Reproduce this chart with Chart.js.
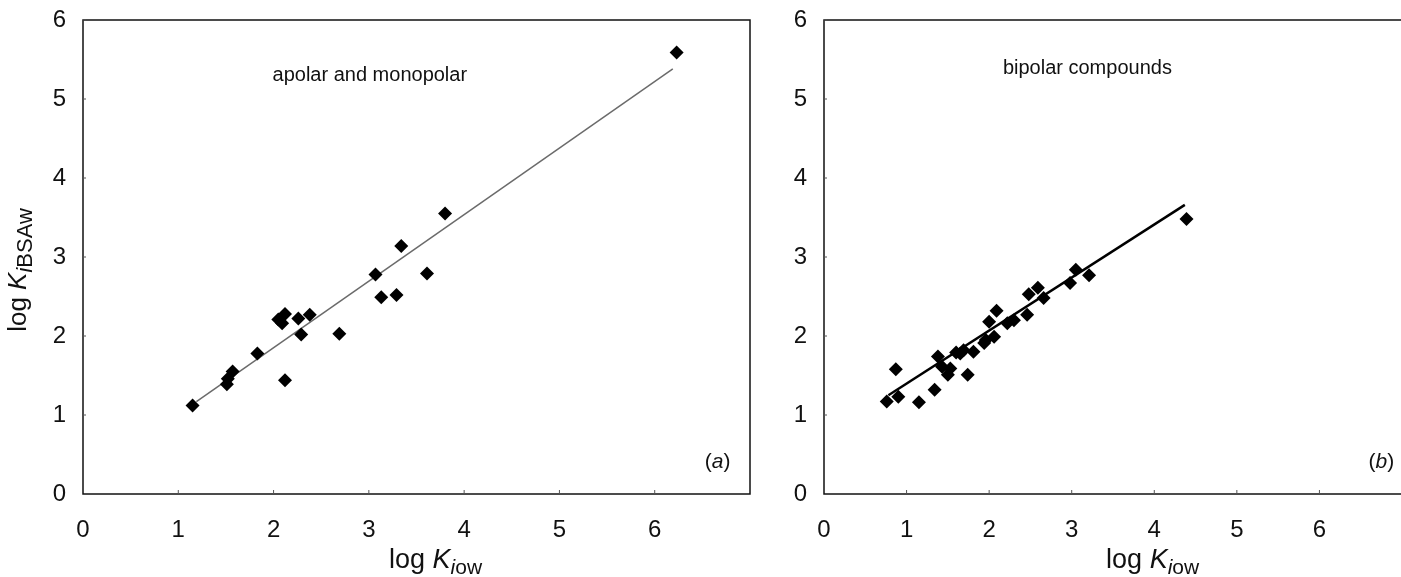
<!DOCTYPE html>
<html>
<head>
<meta charset="utf-8">
<script src="https://cdn.jsdelivr.net/npm/chart.js@4.4.0/dist/chart.umd.min.js"></script>
<style>
  html, body { margin: 0; padding: 0; background: #fff; }
  body { width: 1401px; height: 577px; position: relative; overflow: hidden; }
  canvas { position: absolute; top: 0; }
  #chartA { left: 0; }
  #chartB { left: 740px; }
</style>
</head>
<body>
<canvas id="chartA" width="770" height="577"></canvas>
<canvas id="chartB" width="669" height="577"></canvas>
<script>
// (a) apolar and monopolar compounds
const apolarX = [1.15, 1.51, 1.52, 1.57, 1.83, 2.12, 2.05, 2.09, 2.12, 2.26, 2.38, 2.29, 2.69, 3.07, 3.13, 3.29, 3.34, 3.61, 3.80, 6.23];
const apolarY = [1.12, 1.39, 1.46, 1.55, 1.78, 1.44, 2.21, 2.16, 2.28, 2.22, 2.27, 2.02, 2.03, 2.78, 2.49, 2.52, 3.14, 2.79, 3.55, 5.59];
const apolarFitX = [1.19, 6.19];
const apolarFitY = [1.17, 5.38];

// (b) bipolar compounds
const bipolarX = [0.76, 0.90, 0.87, 1.15, 1.34, 1.38, 1.43, 1.50, 1.53, 1.60, 1.65, 1.74, 1.81, 1.69, 1.94, 1.96, 2.06, 2.00, 2.09, 2.22, 2.30, 2.46, 2.48, 2.59, 2.66, 2.98, 3.05, 3.21, 4.39];
const bipolarY = [1.17, 1.23, 1.58, 1.16, 1.32, 1.74, 1.61, 1.51, 1.59, 1.79, 1.78, 1.51, 1.80, 1.82, 1.91, 1.95, 1.99, 2.18, 2.32, 2.16, 2.20, 2.27, 2.53, 2.61, 2.48, 2.67, 2.84, 2.77, 3.48];
const bipolarFitX = [0.78, 4.37];
const bipolarFitY = [1.25, 3.66];

const xTickLabels = ['0', '1', '2', '3', '4', '5', '6'];

const FONT = '"Liberation Sans", Arial, Helvetica, sans-serif';

function pairs(xs, ys) {
  return xs.map((x, i) => ({ x: x, y: ys[i] }));
}

// draws "log K_i..." with italic K and subscripts
function drawLabel(ctx, parts, cx, cy, rotate, size, subSize) {
  ctx.save();
  ctx.translate(cx, cy);
  if (rotate) ctx.rotate(-Math.PI / 2);
  ctx.textBaseline = 'alphabetic';
  ctx.textAlign = 'left';
  const fontOf = p => (p.italic ? 'italic ' : '') + (p.sub ? subSize : size) + 'px ' + FONT;
  let total = 0;
  parts.forEach(p => {
    ctx.font = fontOf(p);
    p.w = ctx.measureText(p.t).width;
    total += p.w;
  });
  let x = -total / 2;
  const base = size * 0.36;
  parts.forEach(p => {
    ctx.font = fontOf(p);
    ctx.fillText(p.t, x, p.sub ? base + size * 0.22 : base);
    x += p.w;
  });
  ctx.restore();
}

const framePlugin = {
  id: 'frame',
  afterDraw(chart, args, opts) {
    const { ctx, chartArea: a, scales } = chart;
    ctx.save();
    ctx.strokeStyle = '#111';
    ctx.lineWidth = 1.5;
    ctx.strokeRect(a.left, a.top, a.right - a.left, a.bottom - a.top);
    // small inward tick marks
    ctx.lineWidth = 1;
    ctx.strokeStyle = '#555';
    for (let v = 1; v <= 6; v++) {
      const px = scales.x.getPixelForValue(v);
      ctx.beginPath(); ctx.moveTo(px, a.bottom); ctx.lineTo(px, a.bottom - 4); ctx.stroke();
      const py = scales.y.getPixelForValue(v);
      ctx.beginPath(); ctx.moveTo(a.left, py); ctx.lineTo(a.left + 3, py); ctx.stroke();
    }
    ctx.fillStyle = '#111';
    // panel caption
    ctx.font = '20px ' + FONT;
    ctx.textAlign = 'center';
    ctx.textBaseline = 'middle';
    ctx.fillText(opts.caption, scales.x.getPixelForValue(opts.captionAt[0]), scales.y.getPixelForValue(opts.captionAt[1]));
    // panel letter (a)/(b)
    const lx = scales.x.getPixelForValue(opts.letterAt[0]);
    const ly = scales.y.getPixelForValue(opts.letterAt[1]);
    ctx.textAlign = 'left';
    ctx.font = '21px ' + FONT;
    const w1 = ctx.measureText('(').width;
    ctx.font = 'italic 21px ' + FONT;
    const w2 = ctx.measureText(opts.letter).width;
    ctx.font = '21px ' + FONT;
    const w3 = ctx.measureText(')').width;
    let x0 = lx - (w1 + w2 + w3) / 2;
    ctx.fillText('(', x0, ly);
    ctx.font = 'italic 21px ' + FONT;
    ctx.fillText(opts.letter, x0 + w1, ly);
    ctx.font = '21px ' + FONT;
    ctx.fillText(')', x0 + w1 + w2, ly);
    // axis titles
    drawLabel(ctx, [
      { t: 'log ' }, { t: 'K', italic: true }, { t: 'i', italic: true, sub: true }, { t: 'ow', sub: true }
    ], scales.x.getPixelForValue(opts.xTitleAt), 558, false, 27, 21);
    if (opts.yTitle) {
      drawLabel(ctx, [
        { t: 'log ' }, { t: 'K', italic: true }, { t: 'i', italic: true, sub: true }, { t: 'BSAw', sub: true }
      ], 17, 270, true, 26, 22);
    }
    ctx.restore();
  }
};

function makeChart(id, cfg) {
  return new Chart(document.getElementById(id), {
    type: 'scatter',
    data: {
      datasets: [{
        data: pairs(cfg.xs, cfg.ys),
        pointStyle: 'rectRot',
        pointRadius: 7,
        pointHoverRadius: 7,
        backgroundColor: '#000',
        borderColor: '#000',
        borderWidth: 0
      }, {
        data: pairs(cfg.fitX, cfg.fitY),
        showLine: true,
        borderColor: cfg.lineColor,
        borderWidth: cfg.lineWidth,
        pointRadius: 0,
        fill: false
      }]
    },
    options: {
      responsive: false,
      animation: false,
      layout: { padding: { top: 20, right: cfg.padRight, left: 0, bottom: 0 } },
      plugins: {
        legend: { display: false },
        tooltip: { enabled: false },
        frame: cfg.frame
      },
      scales: {
        x: {
          type: 'linear', min: 0, max: 7,
          grid: { display: false }, border: { display: false },
          ticks: {
            stepSize: 1, color: '#111', padding: 14,
            font: { family: FONT, size: 24 },
            callback: v => xTickLabels[v] !== undefined ? xTickLabels[v] : ''
          },
          afterFit: s => { s.height = 83; s.paddingLeft = 0; s.paddingRight = 0; }
        },
        y: {
          type: 'linear', min: 0, max: 6,
          grid: { display: false }, border: { display: false },
          ticks: { stepSize: 1, color: '#111', padding: 9, font: { family: FONT, size: 24 } },
          afterFit: s => { s.width = cfg.yWidth; s.paddingTop = 0; s.paddingBottom = 0; }
        }
      }
    },
    plugins: [framePlugin]
  });
}

makeChart('chartA', {
  xs: apolarX, ys: apolarY, fitX: apolarFitX, fitY: apolarFitY,
  lineColor: '#6b6b6b', lineWidth: 1.5, padRight: 20, yWidth: 83,
  frame: { caption: 'apolar and monopolar', captionAt: [3.01, 5.3], letter: 'a', letterAt: [6.66, 0.4], xTitleAt: 3.7, yTitle: true }
});

makeChart('chartB', {
  xs: bipolarX, ys: bipolarY, fitX: bipolarFitX, fitY: bipolarFitY,
  lineColor: '#000', lineWidth: 2.5, padRight: 0, yWidth: 84,
  frame: { caption: 'bipolar compounds', captionAt: [3.19, 5.39], letter: 'b', letterAt: [6.75, 0.4], xTitleAt: 3.98, yTitle: false }
});
</script>
</body>
</html>
